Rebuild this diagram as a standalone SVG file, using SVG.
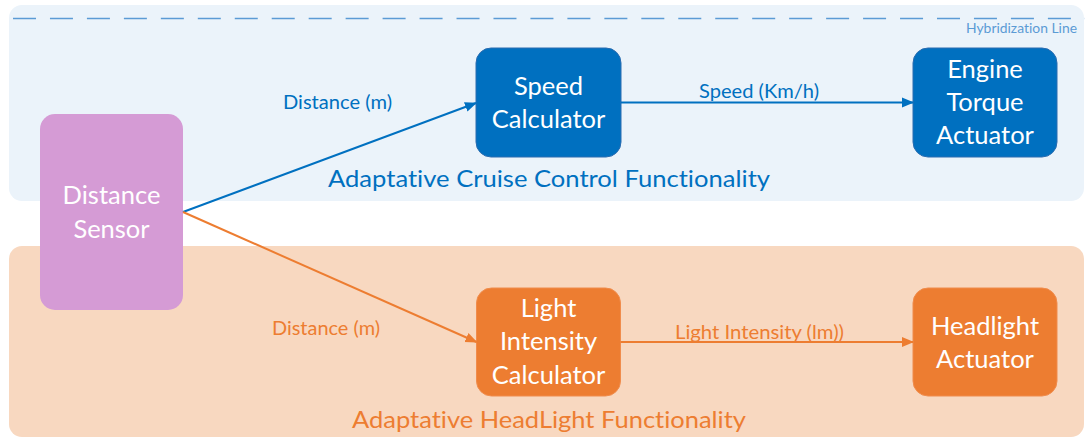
<svg xmlns="http://www.w3.org/2000/svg" width="1085" height="437" viewBox="0 0 1085 437">
  <style>
    text { font-family: Lato, "Open Sans", "Liberation Sans", sans-serif; font-variant-ligatures: none; font-feature-settings: "liga" 0, "clig" 0; }
    .node-label { font-size: 25.5px; fill: #ffffff; text-anchor: middle; }
    .edge-blue { font-size: 18.5px; fill: #0070c0; }
    .edge-orange { font-size: 18.5px; fill: #ed7d31; }
    .title-blue { font-size: 24px; fill: #0070c0; }
    .title-orange { font-size: 24px; fill: #ed7d31; }
    .hyb { font-size: 13px; fill: #5b9bd5; }
    .blue-node { fill: #0070c0; stroke: #2a6cb0; stroke-width: 1; }
    .orange-node { fill: #ed7d31; stroke: #f08c4c; stroke-width: 1; }
    .wire-blue { stroke: #0070c0; stroke-width: 2; fill: none; }
    .wire-orange { stroke: #ed7d31; stroke-width: 2; fill: none; }
  </style>
  <defs>
    <marker id="arrow-blue" markerUnits="userSpaceOnUse" markerWidth="12" markerHeight="12" viewBox="0 0 12 12" refX="11" refY="6" orient="auto">
      <path d="M0,1 L12,6 L0,11 Z" fill="#0070c0"/>
    </marker>
    <marker id="arrow-orange" markerUnits="userSpaceOnUse" markerWidth="12" markerHeight="12" viewBox="0 0 12 12" refX="11" refY="6" orient="auto">
      <path d="M0,1 L12,6 L0,11 Z" fill="#ed7d31"/>
    </marker>
  </defs>

  <rect width="1085" height="437" fill="#ffffff"/>

  <!-- functionality bands -->
  <g id="band-cruise">
    <rect x="9" y="5" width="1075" height="196" rx="13" fill="#ebf3fa"/>
    <text class="title-blue" x="328" y="187" textLength="442" lengthAdjust="spacingAndGlyphs">Adaptative Cruise Control Functionality</text>
  </g>
  <g id="band-headlight">
    <rect x="9" y="246" width="1075" height="191" rx="13" fill="#f8d8c0"/>
    <text class="title-orange" x="352" y="428" textLength="394" lengthAdjust="spacingAndGlyphs">Adaptative HeadLight Functionality</text>
  </g>

  <!-- hybridization line -->
  <g id="hybridization-line">
    <line x1="13" y1="18.5" x2="1085" y2="18.5" stroke="#5b9bd5" stroke-width="1.5" stroke-dasharray="23 13.96"/>
    <text class="hyb" x="966" y="33" textLength="111" lengthAdjust="spacingAndGlyphs">Hybridization Line</text>
  </g>

  <!-- nodes -->
  <g id="distance-sensor">
    <rect x="40" y="114" width="143" height="196" rx="15" fill="#d59bd5"/>
    <text class="node-label" x="111.5" y="203.5">Distance</text>
    <text class="node-label" x="111.5" y="237.5">Sensor</text>
  </g>

  <g id="speed-calculator">
    <rect class="blue-node" x="476" y="48" width="145" height="109" rx="15"/>
    <text class="node-label" x="548.5" y="95">Speed</text>
    <text class="node-label" x="548.5" y="128">Calculator</text>
  </g>

  <g id="engine-torque-actuator">
    <rect class="blue-node" x="913" y="48" width="144" height="109" rx="15"/>
    <text class="node-label" x="985" y="77.5">Engine</text>
    <text class="node-label" x="985" y="110.8">Torque</text>
    <text class="node-label" x="985" y="144">Actuator</text>
  </g>

  <g id="light-intensity-calculator">
    <rect class="orange-node" x="476.5" y="288" width="144" height="108" rx="15"/>
    <text class="node-label" x="548.5" y="317">Light</text>
    <text class="node-label" x="548.5" y="350.3">Intensity</text>
    <text class="node-label" x="548.5" y="383.5">Calculator</text>
  </g>

  <g id="headlight-actuator">
    <rect class="orange-node" x="913" y="288" width="144" height="108" rx="15"/>
    <text class="node-label" x="985" y="335">Headlight</text>
    <text class="node-label" x="985" y="368.3">Actuator</text>
  </g>

  <!-- connectors -->
  <g id="connectors">
    <line class="wire-blue" x1="183" y1="212" x2="476" y2="103" marker-end="url(#arrow-blue)"/>
    <line class="wire-blue" x1="621" y1="102.5" x2="913" y2="102.5" marker-end="url(#arrow-blue)"/>
    <line class="wire-orange" x1="183" y1="212" x2="476.5" y2="342" marker-end="url(#arrow-orange)"/>
    <line class="wire-orange" x1="620.5" y1="342" x2="913" y2="342" marker-end="url(#arrow-orange)"/>
    <text class="edge-blue" x="283" y="108.5" textLength="109" lengthAdjust="spacingAndGlyphs">Distance (m)</text>
    <text class="edge-blue" x="699" y="98" textLength="120" lengthAdjust="spacingAndGlyphs">Speed (Km/h)</text>
    <text class="edge-orange" x="272" y="335" textLength="108" lengthAdjust="spacingAndGlyphs">Distance (m)</text>
    <text class="edge-orange" x="675" y="338.5" textLength="169" lengthAdjust="spacingAndGlyphs">Light Intensity (lm))</text>
  </g>
</svg>
